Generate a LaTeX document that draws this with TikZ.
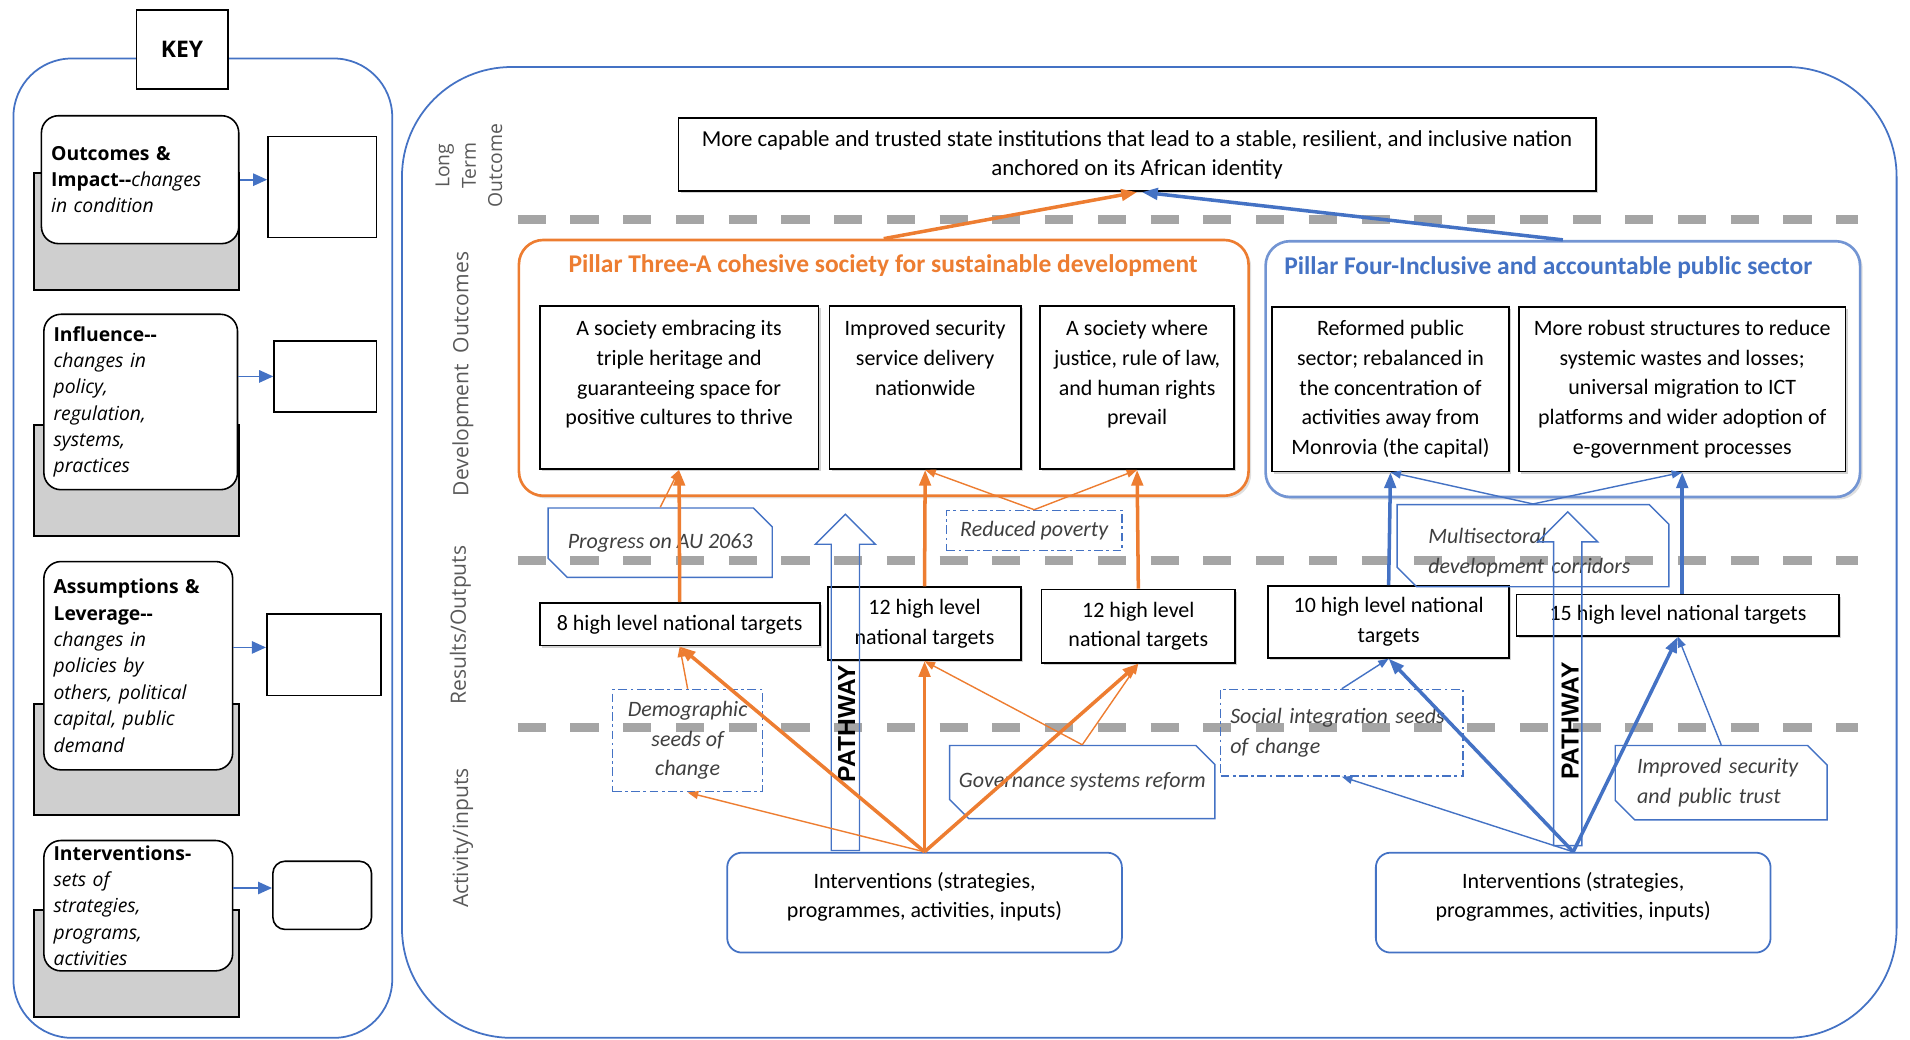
\documentclass[tikz,border=0pt]{standalone}
\usepackage{fontspec}
\setmainfont{Carlito}
\newfontfamily\keyfont{Open Sans}
\newfontfamily\arrowfont{Liberation Sans}
\usetikzlibrary{arrows.meta,positioning,shapes.misc,shapes.arrows,shadows}

\definecolor{pillarorange}{HTML}{ED7D31}
\definecolor{pillarblue}{HTML}{4472C4}
\definecolor{layergrey}{HTML}{A5A5A5}
\definecolor{shadowgrey}{HTML}{CFCFCF}
\definecolor{rowgrey}{HTML}{595959}
\definecolor{notegrey}{HTML}{3F3F3F}

\newdimen\px
\px=0.02436cm

\begin{document}
\begin{tikzpicture}
      [
        x=0.02436cm, y=-0.02436cm,
        font=\fontsize{12.5}{16.8}\selectfont,
        KeyShadow/.style={draw, line width=0.9pt, fill=shadowgrey, inner sep=0pt, minimum width=168\px},
        KeyCard/.style={draw, line width=0.9pt, fill=white, rounded corners=14\px, align=left, inner xsep=8\px, inner ysep=0pt, font=\keyfont\fontsize{11}{15}\selectfont},
        KeyTarget/.style={draw, line width=0.9pt, inner sep=0pt},
        KeyArrow/.style={-{Triangle[length=8pt,width=7pt]}, pillarblue, line width=1pt},
        RowLabel/.style={rotate=90, text=rowgrey, align=center, font=\keyfont\fontsize{12}{15}\selectfont},
        LayerLine/.style={layergrey, line width=5pt, dash pattern=on 16pt off 14pt},
        BoxShadow/.style={fill=white, drop shadow={opacity=0.35, shadow xshift=1.2pt, shadow yshift=-1.2pt}},
        GoalBox/.style={draw, line width=1pt, align=center, inner sep=0pt, BoxShadow},
        PillarBox/.style={draw, line width=1.5pt, rounded corners=20\px, fill=white, drop shadow={opacity=0.25, shadow xshift=1.5pt, shadow yshift=-1.5pt}},
        PillarTitle/.style={font=\bfseries\fontsize{14.5}{16}\selectfont},
        OutcomeBox/.style={draw, line width=1pt, align=center, inner sep=0pt, minimum height=134\px, BoxShadow},
        TargetBox/.style={draw, line width=1pt, align=center, inner sep=0pt, BoxShadow},
        InfluenceBox/.style={draw=pillarblue, line width=0.8pt, chamfered rectangle, chamfered rectangle corners={north east, south west}, chamfered rectangle xsep=8\px, chamfered rectangle ysep=8\px, inner sep=0pt, text=notegrey, font=\itshape\fontsize{12.5}{16.8}\selectfont},
        AssumptionBox/.style={draw=pillarblue, line width=0.8pt, dash pattern=on 5pt off 2pt on 1.5pt off 2pt, inner sep=0pt, text=notegrey, font=\itshape\fontsize{12.5}{16.8}\selectfont},
        InterventionBox/.style={draw=pillarblue, line width=1pt, rounded corners=12\px, align=center, inner sep=0pt, minimum width=324\px, minimum height=82\px},
        PathwayArrow/.style={draw=pillarblue, line width=0.8pt, single arrow, rotate=90, inner xsep=0pt, inner ysep=11\px, single arrow head extend=13\px, minimum width=48\px},
        PathwayText/.style={rotate=90, font=\arrowfont\bfseries\fontsize{14}{16}\selectfont},
        MainLink/.style={line width=2pt, -{Triangle[length=9pt,width=6.5pt]}},
        SideLink/.style={line width=0.8pt, -{Triangle[length=6pt,width=4.5pt]}},
      ]

      \useasboundingbox (0,0) rectangle (1568,853);

      % key panel
      \draw[pillarblue, line width=1pt, rounded corners=48\px] (11,48) rectangle (322,852);
      \node [draw, line width=1pt, fill=white, minimum width=75\px, minimum height=65\px, font=\keyfont\bfseries\fontsize{13}{15}\selectfont] (key) at (149.5,40.5) {KEY};

      \node [KeyShadow, minimum height=96\px] (kshadow1) at (112,190) {};
      \node [KeyCard, text width=146\px, minimum height=105\px] (kcard1) at (115,147.5) {\textbf{Outcomes \&}\\\textbf{Impact-{}-}\textit{changes}\\\textit{in condition}};
      \node [KeyTarget, minimum width=89\px, minimum height=83\px] (ktarget1) at (264.5,153.5) {};

      \node [KeyShadow, minimum height=91\px] (kshadow2) at (112,394.5) {};
      \node [KeyCard, text width=143\px, minimum height=144\px] (kcard2) at (115.5,330) {\textbf{Influence-{}-}\\\textit{changes in}\\\textit{policy,}\\\textit{regulation,}\\\textit{systems,}\\\textit{practices}};
      \node [KeyTarget, chamfered rectangle, chamfered rectangle corners={north east, south west}, chamfered rectangle xsep=8\px, chamfered rectangle ysep=8\px, minimum width=84\px, minimum height=58\px] (ktarget2) at (267,309) {};

      \node [KeyShadow, minimum height=91\px] (kshadow3) at (112,623.5) {};
      \node [KeyCard, text width=139\px, minimum height=171\px] (kcard3) at (113.5,546.5) {\textbf{Assumptions \&}\\\textbf{Leverage-{}-}\\\textit{changes in}\\\textit{policies by}\\\textit{others, political}\\\textit{capital, public}\\\textit{demand}};
      \node [KeyTarget, minimum width=94\px, minimum height=67\px] (ktarget3) at (266,537.5) {};

      \node [KeyShadow, minimum height=88\px] (kshadow4) at (112,791) {};
      \node [KeyCard, text width=139\px, minimum height=107\px] (kcard4) at (113.5,743.5) {\textbf{Interventions-}\\\textit{sets of}\\\textit{strategies,}\\\textit{programs,}\\\textit{activities}};
      \node [KeyTarget, rounded corners=10\px, minimum width=81\px, minimum height=56\px] (ktarget4) at (264.5,735) {};

      \draw[KeyArrow] (kcard1.east) -- (kcard1.east -| ktarget1.west);
      \draw[KeyArrow] (ktarget2.west -| kcard2.east) -- (ktarget2.west);
      \draw[KeyArrow] ([yshift=6\px]ktarget3.west -| kcard3.east) -- ([yshift=6\px]ktarget3.west);
      \draw[KeyArrow] ([yshift=6\px]ktarget4.west -| kcard4.east) -- ([yshift=6\px]ktarget4.west);

      % main panel
      \draw[pillarblue, line width=1pt, rounded corners=90\px] (330,55) rectangle (1557,852);

      \node [RowLabel, font=\keyfont\fontsize{11}{15}\selectfont] (rowgoal) at (385,136) {Long\\Term\\Outcome};
      \node [RowLabel] (rowdev) at (380,307) {Development\ \ Outcomes};
      \node [RowLabel] (rowres) at (378,513) {Results/Outputs};
      \node [RowLabel] (rowact) at (380,688) {Activity/inputs};

      \foreach \y in {180,460,597}
        \draw[LayerLine] (425,\y) -- (1525,\y);

      \node [GoalBox, minimum width=753\px, minimum height=60\px, font=\fontsize{13}{16.8}\selectfont] (goal) at (933.5,127) {More capable and trusted state institutions that lead to a stable, resilient, and inclusive nation\\anchored on its African identity};

      \node [PillarBox, draw=pillarorange, minimum width=599\px, minimum height=210\px] (pillar3) at (725.5,302) {};
      \node [PillarTitle, text=pillarorange] (pillar3title) at (725,218) {Pillar Three-A cohesive society for sustainable development};
      \node [PillarBox, draw=pillarblue!75, minimum width=488\px, minimum height=210\px] (pillar4) at (1283,303) {};
      \node [PillarTitle, text=pillarblue] (pillar4title) at (1271,220) {Pillar Four-Inclusive and accountable public sector};

      \node [OutcomeBox, minimum width=229\px] (society) at (557.5,318) {A society embracing its\\triple heritage and\\guaranteeing space for\\positive cultures to thrive\\\mbox{}};
      \node [OutcomeBox, minimum width=157\px] (security) at (759.5,318) {Improved security\\service delivery\\nationwide\\\mbox{}\\\mbox{}};
      \node [OutcomeBox, minimum width=159\px] (justice) at (933.5,318) {A society where\\justice, rule of law,\\and human rights\\prevail\\\mbox{}};
      \node [OutcomeBox, minimum width=195\px, minimum height=135\px] (reform) at (1141.5,319.5) {Reformed public\\sector; rebalanced in\\the concentration of\\activities away from\\Monrovia (the capital)};
      \node [OutcomeBox, minimum width=268\px, minimum height=135\px] (structures) at (1381,319.5) {More robust structures to reduce\\systemic wastes and losses;\\universal migration to ICT\\platforms and wider adoption of\\e-government processes};

      \node [TargetBox, minimum width=230\px, minimum height=35\px] (target8) at (558,512.5) {8 high level national targets};
      \node [TargetBox, minimum width=158\px, minimum height=60\px] (target12a) at (759,512) {12 high level\\national targets};
      \node [TargetBox, minimum width=159\px, minimum height=60\px] (target12b) at (934.5,514) {12 high level\\national targets};
      \node [TargetBox, minimum width=198\px, minimum height=59\px] (target10) at (1140,510.5) {10 high level national\\targets};
      \node [TargetBox, minimum width=265\px, minimum height=34\px] (target15) at (1377.5,505) {15 high level national targets};

      \node [InfluenceBox, minimum width=184\px, minimum height=57\px] (au2063) at (542,445.5) {Progress on AU 2063};
      \node [InfluenceBox, minimum width=217\px, minimum height=60\px] (governance) at (888.5,642) {Governance systems reform};
      \node [InfluenceBox, minimum width=223\px, minimum height=60\px, align=left, text width=172\px] (corridors) at (1258.5,448) {\mbox{}\\Multisectoral\\development corridors};
      \node [InfluenceBox, minimum width=174\px, minimum height=61\px, align=left, text width=138\px] (trust) at (1413,642.5) {Improved security\\and public trust};

      \node [AssumptionBox, minimum width=144\px, minimum height=33\px] (poverty) at (849,435.5) {Reduced poverty};
      \node [AssumptionBox, minimum width=123\px, minimum height=84\px, align=center] (demographic) at (564.5,608) {Demographic\\seeds of\\change};
      \node [AssumptionBox, minimum width=199\px, minimum height=71\px, align=left, text width=183\px] (integration) at (1101.5,601.5) {Social integration seeds\\of change};

      \node [InterventionBox] (interv3) at (759,741) {Interventions (strategies,\\programmes, activities, inputs)\\[-8pt]\mbox{}};
      \node [InterventionBox] (interv4) at (1291.5,741) {Interventions (strategies,\\programmes, activities, inputs)\\[-8pt]\mbox{}};

      \node [PathwayArrow, minimum height=276\px] (pathway3) at (694,566) {};
      \node [PathwayText] (pathway3label) at (695,594) {PATHWAY};
      \node [PathwayArrow, minimum height=274\px] (pathway4) at (1287,563) {};
      \node [PathwayText] (pathway4label) at (1289,592) {PATHWAY};

      % pillar three links
      \draw[MainLink, pillarorange] (interv3.north) -- (target8.south);
      \draw[MainLink, pillarorange] (interv3.north) -- (target12a.south);
      \draw[MainLink, pillarorange] (interv3.north) -- (target12b.south);
      \draw[SideLink, pillarorange] (interv3.north) -- (demographic.south);
      \draw[SideLink, pillarorange] (demographic.north) -- (target8.south);
      \draw[SideLink, pillarorange] (governance.north) -- (target12a.south);
      \draw[SideLink, pillarorange] (governance.north) -- (target12b.south);
      \draw[MainLink, pillarorange] (target8.north) -- (society.south);
      \draw[MainLink, pillarorange] (target12a.north) -- (security.south);
      \draw[MainLink, pillarorange] (target12b.north) -- (justice.south);
      \draw[SideLink, pillarorange] (au2063.north) -- (society.south);
      \draw[SideLink, pillarorange] (poverty.north) -- (security.south);
      \draw[SideLink, pillarorange] (poverty.north) -- (justice.south);
      \draw[MainLink, pillarorange] (pillar3.north) -- (goal.south);

      % pillar four links
      \draw[MainLink, pillarblue] (interv4.north) -- (target10.south);
      \draw[MainLink, pillarblue] (interv4.north) -- (target15.south);
      \draw[SideLink, pillarblue] (interv4.north) -- (integration.south);
      \draw[SideLink, pillarblue] (integration.north) -- (target10.south);
      \draw[SideLink, pillarblue] (trust.north) -- (target15.south);
      \draw[MainLink, pillarblue] (target10.north) -- (reform.south);
      \draw[MainLink, pillarblue] (target15.north -| structures.south) -- (structures.south);
      \draw[SideLink, pillarblue] (corridors.north) -- (reform.south);
      \draw[SideLink, pillarblue] (corridors.north) -- (structures.south);
      \draw[MainLink, pillarblue] (pillar4.north) -- ([xshift=4\px]goal.south);
\end{tikzpicture}
\end{document}
